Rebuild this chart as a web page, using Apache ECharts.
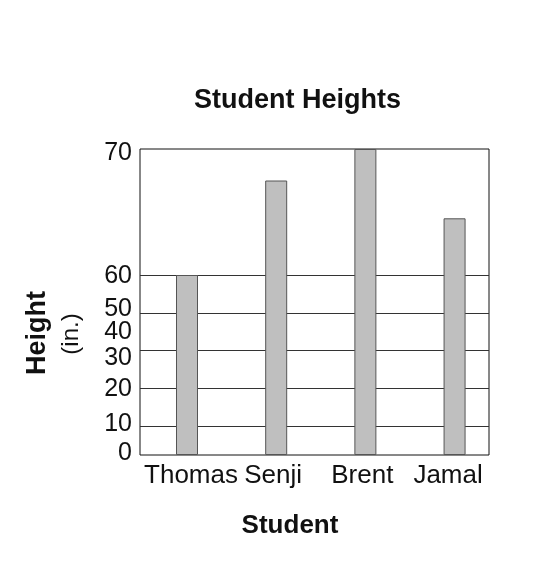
<!DOCTYPE html>
<html>
<head>
<meta charset="utf-8">
<script src="https://cdn.jsdelivr.net/npm/echarts@6/dist/echarts.min.js"></script>
<style>
  html, body { margin: 0; padding: 0; background: #fff; }
  #main { width: 560px; height: 570px; }
</style>
</head>
<body>
<div id="main"></div>
<script>
  var students = ['Thomas', 'Senji', 'Brent', 'Jamal'];
  var heights = [60, 67.5, 70, 64.5];
  var tickLabels = ['0', '10', '20', '30', '40', '50', '60', '70'];
  var gridValues = [10, 20, 30, 40, 50, 60];

  // the printed axis is not linear: map inches to pixels above the baseline
  function yPos(v) {
    if (v >= 60) return 180 + (v - 60) * 12.6;
    if (v >= 10) return 29 + (v - 10) * 3.775;
    return v * 2.9;
  }
  // where the printed numbers actually sit (they don't line up with the grid)
  var labelPos = [2, 31, 66, 97, 123, 146, 179, 302];
  // names are not quite centred under their bars
  var nameShift = [0.045, -0.034, -0.034, -0.073];

  var font = 'Liberation Sans, Arial, Helvetica, sans-serif';
  var myChart = echarts.init(document.getElementById('main'));

  var namePos = students.map(function (s, i) { return i + nameShift[i]; });

  var option = {
    backgroundColor: '#fff',
    animation: false,
    title: {
      text: 'Student Heights',
      left: 189,
      top: 82,
      textStyle: { fontFamily: font, fontSize: 27, fontWeight: 'bold', color: '#111' }
    },
    grid: {
      left: 140, right: 71, top: 149, bottom: 115,
      show: true, borderColor: '#111', borderWidth: 1, backgroundColor: 'transparent'
    },
    xAxis: {
      type: 'value',
      min: -0.527,
      max: 3.386,
      axisLine: { show: false },
      axisTick: { show: false },
      splitLine: { show: false },
      axisLabel: {
        customValues: namePos,
        formatter: function (v) { return students[namePos.indexOf(v)]; },
        margin: 8,
        fontFamily: font, fontSize: 26, color: '#111'
      },
      name: 'Student',
      nameLocation: 'middle',
      nameGap: 58,
      nameTextStyle: { fontFamily: font, fontSize: 26, fontWeight: 'bold', color: '#111', padding: [0, 49, 0, 0] }
    },
    yAxis: [{
      type: 'value',
      min: 0,
      max: 306,
      axisLine: { show: false },
      axisTick: { show: false },
      splitLine: { show: false },
      axisLabel: {
        customValues: labelPos,
        formatter: function (v) { return tickLabels[labelPos.indexOf(v)]; },
        margin: 8,
        fontFamily: font, fontSize: 25, color: '#111'
      }
    }, {
      type: 'value',
      position: 'left',
      min: 0,
      max: 306,
      axisLine: { show: false },
      axisLabel: { show: false },
      axisTick: { show: false, customValues: gridValues.map(yPos) },
      splitLine: { show: true, lineStyle: { color: '#333', width: 1 } }
    }],
    graphic: [{
      type: 'text',
      x: 38, y: 333,
      rotation: Math.PI / 2,
      style: { text: 'Height', font: 'bold 27px ' + font, fill: '#111', align: 'center', verticalAlign: 'middle' }
    }, {
      type: 'text',
      x: 71, y: 334,
      rotation: Math.PI / 2,
      style: { text: '(in.)', font: '24px ' + font, fill: '#111', align: 'center', verticalAlign: 'middle' }
    }],
    series: [{
      type: 'bar',
      yAxisIndex: 0,
      barWidth: 22,
      z: 3,
      itemStyle: { color: '#bfbfbf', borderColor: '#555', borderWidth: 1 },
      data: heights.map(function (h, i) { return [i, yPos(h)]; })
    }]
  };
  myChart.setOption(option);
</script>
</body>
</html>
